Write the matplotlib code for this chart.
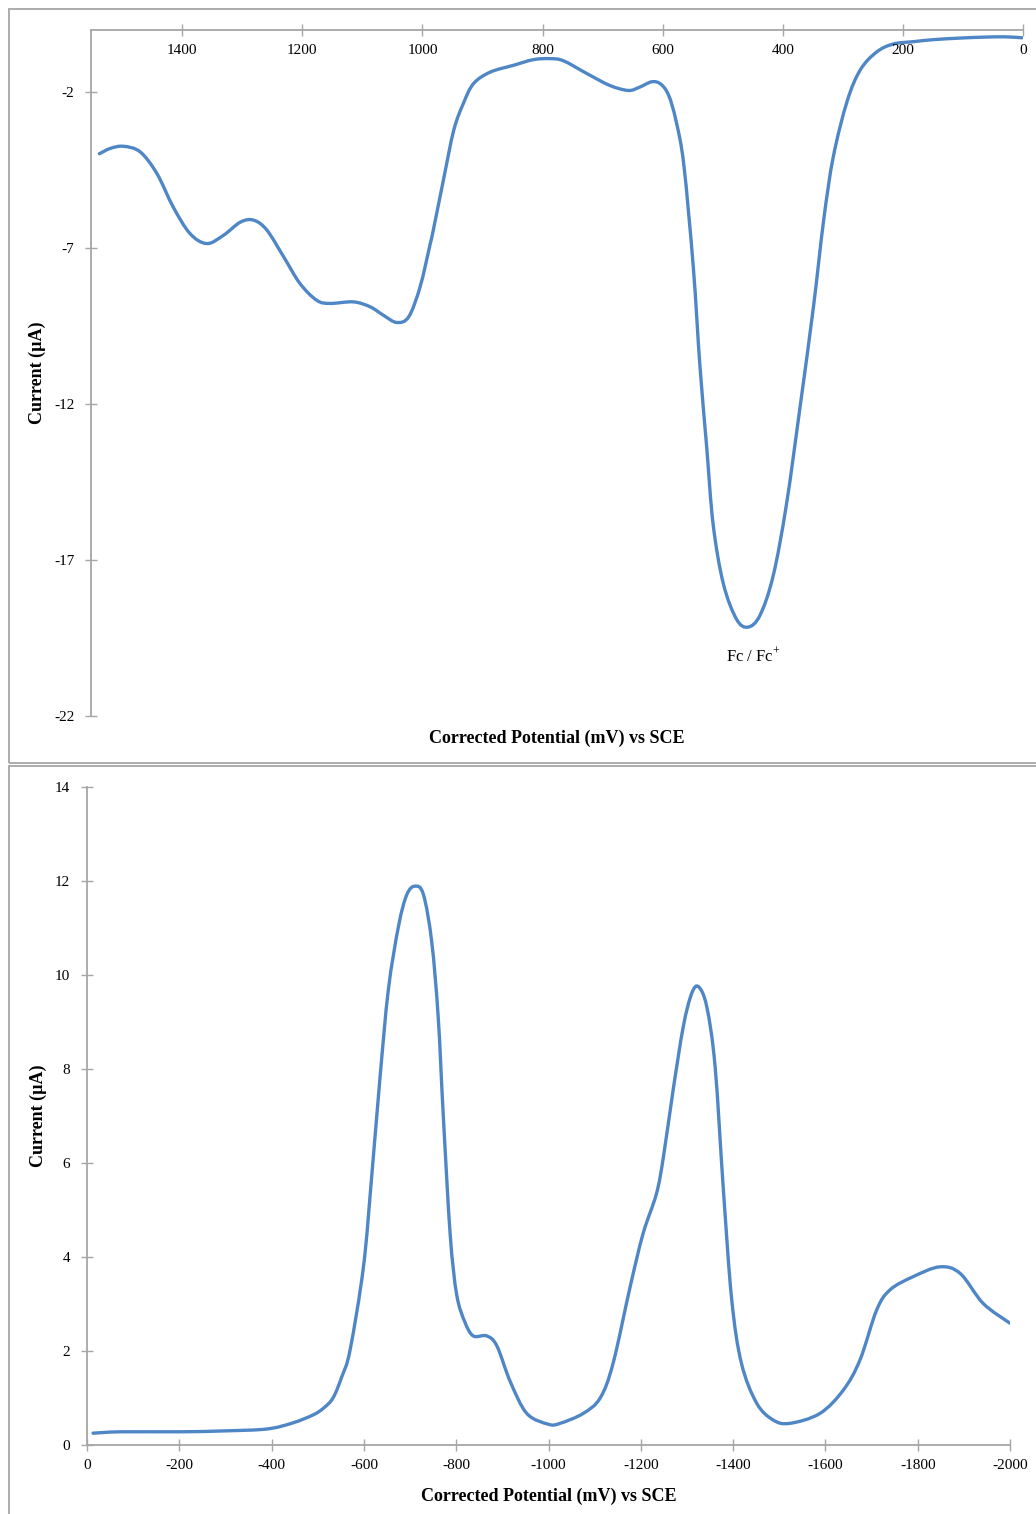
import numpy as np
import matplotlib.pyplot as plt
from matplotlib.patches import Rectangle, PathPatch
from matplotlib.path import Path

plt.rcParams['font.family'] = ['Liberation Serif', 'DejaVu Serif']
plt.rcParams['mathtext.fontset'] = 'custom'
plt.rcParams['mathtext.rm'] = 'Liberation Serif'
plt.rcParams['axes.unicode_minus'] = False

# oxidation scan (top), potential in mV, current in uA
ox_mv = [1538, 1520, 1498, 1470, 1442, 1415, 1387, 1359, 1331, 1303, 1281, 1259,
         1231, 1204, 1176, 1154, 1115, 1087, 1065, 1043, 1023, 1004, 987, 982,
         965, 948, 932, 915, 887, 848, 815, 787, 765, 726, 688, 657, 638, 618,
         603, 590, 578, 565, 549, 538, 527, 516, 499, 477, 458, 438, 416, 394, 371,
         349, 332, 316, 293, 271, 244, 216, 180, 149, 105, 66, 30, 2]
ox_ua = [-3.97, -3.80, -3.73, -3.91, -4.61, -5.68, -6.53, -6.85, -6.58, -6.16, -6.10, -6.42,
         -7.28, -8.13, -8.67, -8.77, -8.72, -8.88, -9.15, -9.38, -9.20, -8.24, -6.85, -6.42,
         -4.80, -3.22, -2.36, -1.72, -1.35, -1.13, -0.95, -0.92, -0.99, -1.40, -1.78, -1.94, -1.83, -1.66,
         -1.74, -2.10, -2.90, -4.30, -7.62, -10.78, -13.32, -15.86, -17.76, -18.90, -19.15, -18.77, -17.50, -15.22, -12.05,
         -8.88, -6.10, -4.07, -2.29, -1.28, -0.71, -0.45, -0.37, -0.31, -0.26, -0.23, -0.22, -0.25]

# reduction scan (bottom)
red_mv = [-13, -72, -201, -300, -390, -446, -490, -512, -533, -552, -570, -599, -617, -635, -653,
          -675, -693, -711, -729, -747, -761, -772, -787, -801, -819, -837, -866,
          -888, -917, -953, -1000, -1025, -1075, -1112, -1140, -1177, -1205, -1234,
          -1249, -1270, -1292, -1310, -1325, -1343, -1361, -1379, -1397, -1418,
          -1451, -1487, -1523, -1588, -1639, -1675, -1711, -1740, -1790, -1848,
          -1892, -1942, -2000]
red_ua = [0.25, 0.28, 0.28, 0.30, 0.34, 0.47, 0.64, 0.78, 1.00, 1.45, 2.02, 3.79, 5.73, 7.83, 9.69,
          11.04, 11.71, 11.89, 11.71, 10.7, 9.1, 7.0, 4.47, 3.2, 2.61, 2.32, 2.32,
          2.11, 1.35, 0.67, 0.44, 0.46, 0.67, 1.0, 1.74, 3.37, 4.50, 5.35,
          6.13, 7.55, 8.90, 9.60, 9.75, 9.32, 8.05, 5.42, 3.09, 1.74,
          0.89, 0.53, 0.46, 0.67, 1.17, 1.81, 2.87, 3.30, 3.58, 3.79,
          3.65, 3.01, 2.59]

line_col = '#4F86C6'
axis_col = '#A6A6A6'


def smooth_line(ax, xs, ys, **kw):
    # Excel-style smoothed line: bezier segments through every data point
    p = np.column_stack([xs, ys]).astype(float)
    p_ext = np.vstack([p[0], p, p[-1]])
    verts = [p[0]]
    codes = [Path.MOVETO]
    for i in range(len(p) - 1):
        p0, p1, p2, p3 = p_ext[i], p_ext[i + 1], p_ext[i + 2], p_ext[i + 3]
        verts += [p1 + (p2 - p0) / 6, p2 - (p3 - p1) / 6, p2]
        codes += [Path.CURVE4] * 3
    ax.add_patch(PathPatch(Path(verts, codes), fill=False, **kw))


fig = plt.figure(figsize=(10.36, 15.14), dpi=100)

# panel frames
fig.patches.append(Rectangle((0.0087, 0.4960), 1.1, 0.4981, transform=fig.transFigure,
                             fill=False, edgecolor=axis_col, lw=1.3))
fig.patches.append(Rectangle((0.0087, -0.1), 1.1, 0.5941, transform=fig.transFigure,
                             fill=False, edgecolor=axis_col, lw=1.3))

ax1 = fig.add_axes([0.0878, 0.5271, 0.8997, 0.4531])
ax2 = fig.add_axes([0.0840, 0.0456, 0.8909, 0.4346])

# top
smooth_line(ax1, ox_mv, ox_ua, edgecolor=line_col, lw=2.4, capstyle='round')
ax1.set_xlim(1552, 0)
ax1.set_ylim(-22, 0)
ax1.set_xticks(range(0, 1600, 200))
ax1.set_yticks([-22, -17, -12, -7, -2])
ax1.spines['bottom'].set_position(('data', 0))
ax1.text(449, -20.1, 'Fc / Fc$^{+}$', ha='center', va='center', fontsize=12)

# bottom
smooth_line(ax2, red_mv, red_ua, edgecolor=line_col, lw=2.4, capstyle='round')
ax2.set_xlim(0, -2000)
ax2.set_ylim(0, 14)
ax2.set_xticks(range(0, -2001, -200))
ax2.set_yticks(range(0, 15, 2))

for ax in (ax1, ax2):
    ax.spines['top'].set_visible(False)
    ax.spines['right'].set_visible(False)
    for s in ('left', 'bottom'):
        ax.spines[s].set_color(axis_col)
        ax.spines[s].set_linewidth(1.3)
    ax.tick_params(direction='inout', length=8, width=1, color=axis_col,
                   labelsize=11, labelcolor='black')
    ax.tick_params(axis='x', pad=6)
    ax.tick_params(axis='y', pad=8)
    ax.set_ylabel('Current (µA)', fontsize=13, fontweight='bold')
    ax.set_xlabel('Corrected Potential (mV) vs SCE', fontsize=13, fontweight='bold')
    ax.xaxis.label.set_va('center')
    ax.yaxis.label.set_va('center')

ax1.yaxis.set_label_coords(-0.057, 0.5)
ax1.xaxis.set_label_coords(0.5, -0.032)
ax2.yaxis.set_label_coords(-0.053, 0.5)
ax2.xaxis.set_label_coords(0.5, -0.078)

fig.savefig('out.png', dpi=100)
